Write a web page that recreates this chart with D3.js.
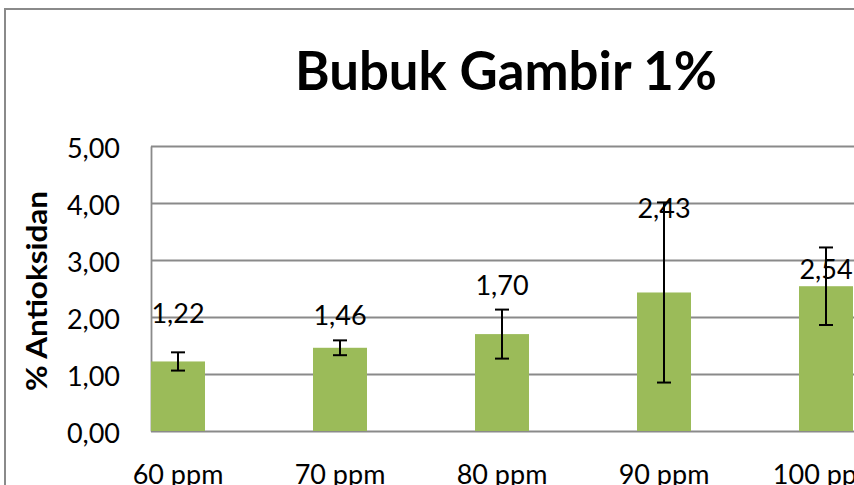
<!DOCTYPE html>
<html>

<head>
    <style>
        body {
            margin: 0;
            background: #fff;
        }

        text {
            font-family: Lato, "Open Sans", sans-serif;
            fill: #000;
        }

        .grid line,
        .grid path {
            stroke: #8a8a8a;
            stroke-width: 1.8;
        }
    </style>
    <script src="https://cdn.jsdelivr.net/npm/d3@7"></script>
</head>

<body>
    <script>
        const categories = ["60 ppm", "70 ppm", "80 ppm", "90 ppm", "100 ppm"];
        const values = [1.22, 1.46, 1.70, 2.43, 2.54];
        const errors = [0.16, 0.13, 0.43, 1.58, 0.68];
        const yTicks = [0, 1, 2, 3, 4, 5];

        // data labels were dragged by hand in the source chart: pixels above bar top
        const labelLift = [38, 23, 39, 74, 7];

        const w = 854;
        const h = 485;
        const plotLeft = 151, plotRight = 853, plotTop = 146, plotBottom = 431;

        const comma = d3.formatLocale({ decimal: ",", thousands: ".", grouping: [3], currency: ["", ""] });
        const fmt = comma.format(".2f");

        const x = d3.scaleBand()
            .domain(categories)
            .range([plotLeft, plotRight])
            .paddingInner(2 / 3)
            .paddingOuter(0);

        const y = d3.scaleLinear()
            .domain([0, 5])
            .range([plotBottom, plotTop]);

        const svg = d3.select("body")
            .append("svg")
            .attr("width", w)
            .attr("height", h);

        // chart border (cropped on the right and bottom)
        svg.append("rect")
            .attr("x", 5)
            .attr("y", 9)
            .attr("width", w + 10)
            .attr("height", h + 10)
            .attr("fill", "#fff")
            .attr("stroke", "#8a8a8a")
            .attr("stroke-width", 2);

        svg.append("text")
            .attr("x", 506)
            .attr("y", 90)
            .attr("text-anchor", "middle")
            .attr("font-size", 53)
            .attr("font-weight", "bold")
            .attr("textLength", 422)
            .attr("lengthAdjust", "spacingAndGlyphs")
            .text("Bubuk Gambir 1%");

        const yAxis = d3.axisLeft(y)
            .tickValues(yTicks)
            .tickFormat(fmt)
            .tickSize(-(w - plotLeft + 2))
            .tickSizeOuter(0)
            .tickPadding(31);

        const gy = svg.append("g")
            .attr("class", "grid")
            .attr("transform", "translate(" + plotLeft + ",0)")
            .call(yAxis);

        gy.selectAll("text")
            .attr("font-size", 27)
            .attr("dy", "0.42em");

        svg.append("text")
            .attr("transform", "translate(47," + 291 + ") rotate(-90)")
            .attr("text-anchor", "middle")
            .attr("font-size", 28)
            .attr("font-weight", "bold")
            .attr("textLength", 200)
            .attr("lengthAdjust", "spacingAndGlyphs")
            .text("% Antioksidan");

        const xAxis = d3.axisBottom(x)
            .tickSize(0)
            .tickPadding(34);

        const gx = svg.append("g")
            .attr("transform", "translate(0," + plotBottom + ")")
            .call(xAxis);

        gx.select(".domain").remove();
        gx.selectAll("text").attr("font-size", 27);

        svg.selectAll("rect.bar")
            .data(values)
            .enter()
            .append("rect")
            .attr("class", "bar")
            .attr("x", (d, i) => x(categories[i]))
            .attr("y", (d) => y(d))
            .attr("width", x.bandwidth())
            .attr("height", (d) => y(0) - y(d))
            .attr("fill", "#9bbb59");

        const eb = svg.append("g")
            .attr("stroke", "#000")
            .attr("stroke-width", 2);

        const cx = (i) => x(categories[i]) + x.bandwidth() / 2;
        const cap = 7;

        values.forEach((v, i) => {
            const hi = y(v + errors[i]);
            const lo = y(v - errors[i]);
            eb.append("line").attr("x1", cx(i)).attr("x2", cx(i)).attr("y1", hi).attr("y2", lo);
            eb.append("line").attr("x1", cx(i) - cap).attr("x2", cx(i) + cap).attr("y1", hi).attr("y2", hi);
            eb.append("line").attr("x1", cx(i) - cap).attr("x2", cx(i) + cap).attr("y1", lo).attr("y2", lo);
        });

        svg.selectAll("text.val")
            .data(values)
            .enter()
            .append("text")
            .attr("class", "val")
            .attr("x", (d, i) => cx(i))
            .attr("y", (d, i) => y(d) - labelLift[i])
            .attr("text-anchor", "middle")
            .attr("font-size", 27)
            .text((d) => fmt(d));
    </script>
</body>

</html>
